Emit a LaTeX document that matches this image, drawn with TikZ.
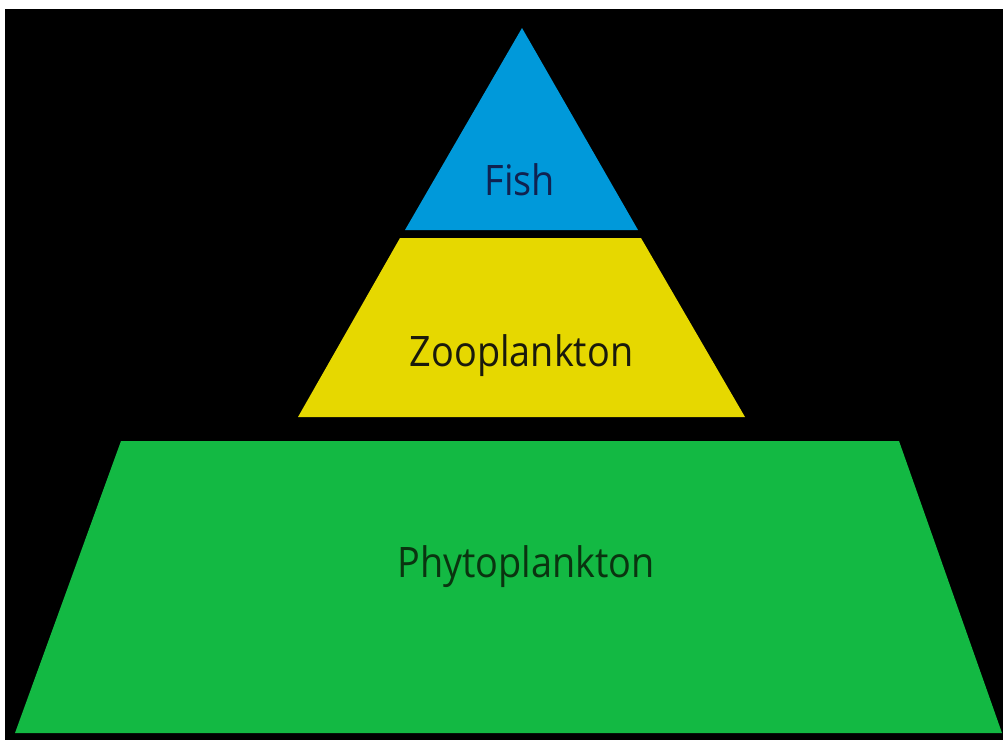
\documentclass[tikz,border=0pt]{standalone}
\usepackage{fontspec}
\setmainfont{Open Sans}
\definecolor{fishblue}{RGB}{0,153,218}
\definecolor{zooyellow}{RGB}{230,216,0}
\definecolor{phygreen}{RGB}{19,185,67}
\definecolor{fishtext}{RGB}{16,34,80}
\definecolor{zootext}{RGB}{26,26,12}
\definecolor{phytext}{RGB}{10,52,16}
\begin{document}
\begin{tikzpicture}[x=1pt,y=-1pt,
  label/.style={anchor=base, inner sep=0pt, font=\fontsize{42}{50}\selectfont}]
\useasboundingbox (0,0) rectangle (1003,740);
\fill[white] (0,0) rectangle (1003,740);
\fill[black] (5,9) rectangle (1003,740);
% levels
\fill[fishblue] (522,28) -- (638,230) -- (405,230) -- cycle;
\fill[zooyellow] (400,238) -- (641,238) -- (745,417) -- (298,417) -- cycle;
\fill[phygreen] (121,441) -- (899,441) -- (1002,733) -- (15,733) -- cycle;
% labels
\node[label, text=fishtext] (fish) at (520,195) {\scalebox{0.9}[1]{Fish}};
\node[label, text=zootext] (zoo) at (521.5,366) {\scalebox{0.9}[1]{Zooplankton}};
\node[label, text=phytext] (phy) at (526,577) {\scalebox{0.9}[1]{Phytoplankton}};
\end{tikzpicture}
\end{document}
